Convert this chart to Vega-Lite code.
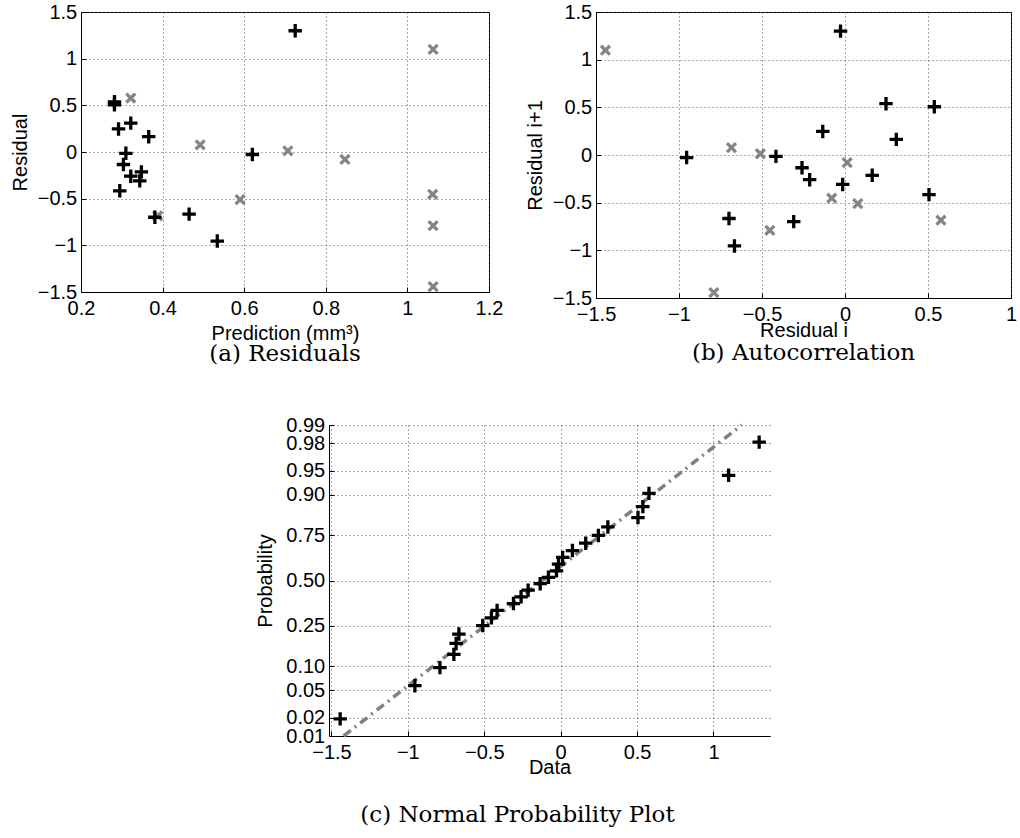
{
  "$schema": "https://vega.github.io/schema/vega-lite/v6.json",
  "autosize": {"type": "none"},
  "padding": {"left": 81, "top": 12, "right": 939, "bottom": 826},
  "background": "white",
  "bounds": "flush",
  "spacing": 413,
  "datasets": {
    "resid": [
      {"g": "g", "pred": 0.322, "res": 0.578},
      {"g": "g", "pred": 0.388, "res": -0.684},
      {"g": "g", "pred": 0.492, "res": 0.077},
      {"g": "g", "pred": 0.590, "res": -0.51},
      {"g": "g", "pred": 0.707, "res": 0.013},
      {"g": "g", "pred": 0.847, "res": -0.08},
      {"g": "g", "pred": 1.062, "res": -0.453},
      {"g": "g", "pred": 1.063, "res": -0.79},
      {"g": "g", "pred": 1.063, "res": -1.443},
      {"g": "g", "pred": 1.063, "res": 1.099},
      {"g": "b", "pred": 0.322, "res": 0.309},
      {"g": "b", "pred": 0.366, "res": 0.164},
      {"g": "b", "pred": 0.348, "res": -0.213},
      {"g": "b", "pred": 0.322, "res": -0.259},
      {"g": "b", "pred": 0.304, "res": -0.134},
      {"g": "b", "pred": 0.292, "res": 0.247},
      {"g": "b", "pred": 0.282, "res": 0.538},
      {"g": "b", "pred": 0.282, "res": 0.506},
      {"g": "b", "pred": 0.295, "res": -0.416},
      {"g": "b", "pred": 0.310, "res": -0.014},
      {"g": "b", "pred": 0.344, "res": -0.309},
      {"g": "b", "pred": 0.381, "res": -0.699},
      {"g": "b", "pred": 0.465, "res": -0.666},
      {"g": "b", "pred": 0.534, "res": -0.954},
      {"g": "b", "pred": 0.620, "res": -0.027},
      {"g": "b", "pred": 0.725, "res": 1.299}
    ],
    "auto": [
      {"g": "g", "ri": 0.578, "ri1": -0.684},
      {"g": "g", "ri": -0.684, "ri1": 0.077},
      {"g": "g", "ri": 0.077, "ri1": -0.51},
      {"g": "g", "ri": -0.51, "ri1": 0.013},
      {"g": "g", "ri": 0.013, "ri1": -0.08},
      {"g": "g", "ri": -0.08, "ri1": -0.453},
      {"g": "g", "ri": -0.453, "ri1": -0.79},
      {"g": "g", "ri": -0.79, "ri1": -1.443},
      {"g": "g", "ri": -1.443, "ri1": 1.099},
      {"g": "b", "ri": 0.309, "ri1": 0.164},
      {"g": "b", "ri": 0.164, "ri1": -0.213},
      {"g": "b", "ri": -0.213, "ri1": -0.259},
      {"g": "b", "ri": -0.259, "ri1": -0.134},
      {"g": "b", "ri": -0.134, "ri1": 0.247},
      {"g": "b", "ri": 0.247, "ri1": 0.538},
      {"g": "b", "ri": 0.538, "ri1": 0.506},
      {"g": "b", "ri": 0.506, "ri1": -0.416},
      {"g": "b", "ri": -0.416, "ri1": -0.014},
      {"g": "b", "ri": -0.014, "ri1": -0.309},
      {"g": "b", "ri": -0.309, "ri1": -0.699},
      {"g": "b", "ri": -0.699, "ri1": -0.666},
      {"g": "b", "ri": -0.666, "ri1": -0.954},
      {"g": "b", "ri": -0.954, "ri1": -0.027},
      {"g": "b", "ri": -0.027, "ri1": 1.299}
    ],
    "norm": [
      {"res": -1.443, "z": -2.070},
      {"res": -0.954, "z": -1.574},
      {"res": -0.79, "z": -1.304},
      {"res": -0.699, "z": -1.105},
      {"res": -0.684, "z": -0.942},
      {"res": -0.666, "z": -0.801},
      {"res": -0.51, "z": -0.674},
      {"res": -0.453, "z": -0.558},
      {"res": -0.416, "z": -0.448},
      {"res": -0.309, "z": -0.345},
      {"res": -0.259, "z": -0.244},
      {"res": -0.213, "z": -0.145},
      {"res": -0.134, "z": -0.048},
      {"res": -0.08, "z": 0.048},
      {"res": -0.027, "z": 0.145},
      {"res": -0.014, "z": 0.244},
      {"res": 0.013, "z": 0.345},
      {"res": 0.077, "z": 0.448},
      {"res": 0.164, "z": 0.558},
      {"res": 0.247, "z": 0.674},
      {"res": 0.309, "z": 0.801},
      {"res": 0.506, "z": 0.942},
      {"res": 0.538, "z": 1.105},
      {"res": 0.578, "z": 1.304},
      {"res": 1.099, "z": 1.574},
      {"res": 1.299, "z": 2.070}
    ],
    "ref": [
      {"res": -1.42, "z": -2.3263},
      {"res": 1.185, "z": 2.3263}
    ]
  },
  "vconcat": [
    {
      "hconcat": [
        {
          "width": 408,
          "height": 280,
          "data": {"name": "resid"},
          "view": {"stroke": "#000", "strokeWidth": 1},
          "title": {"text": "(a) Residuals", "offset": -1},
          "mark": {"type": "point", "filled": false, "strokeWidth": 3.3, "opacity": 1},
          "encoding": {
            "x": {"field": "pred", "type": "quantitative", "scale": {"domain": [0.2, 1.2], "nice": false, "zero": false}, "axis": {"values": [0.2, 0.4, 0.6, 0.8, 1, 1.2], "tickCount": 20, "format": "~g", "title": "Prediction (mm³)"}},
            "y": {"field": "res", "type": "quantitative", "scale": {"domain": [-1.5, 1.5], "nice": false}, "axis": {"values": [-1.5, -1, -0.5, 0, 0.5, 1, 1.5], "tickCount": 20, "format": "~g", "title": "Residual"}},
            "color": {"field": "g", "type": "nominal", "scale": {"domain": ["g", "b"], "range": ["#858585", "#000000"]}, "legend": null},
            "shape": {"field": "g", "type": "nominal", "scale": {"domain": ["g", "b"], "range": ["M-1,-1L1,1M-1,1L1,-1", "M-1,0H1M0,-1V1"]}, "legend": null},
            "size": {"field": "g", "type": "ordinal", "scale": {"domain": ["g", "b"], "range": [80, 180]}, "legend": null}
          }
        },
        {
          "width": 415,
          "height": 286,
          "data": {"name": "auto"},
          "view": {"stroke": "#000", "strokeWidth": 1},
          "title": {"text": "(b) Autocorrelation", "offset": 1},
          "mark": {"type": "point", "filled": false, "strokeWidth": 3.3, "opacity": 1},
          "encoding": {
            "x": {"field": "ri", "type": "quantitative", "scale": {"domain": [-1.5, 1], "nice": false, "zero": false}, "axis": {"values": [-1.5, -1, -0.5, 0, 0.5, 1], "tickCount": 20, "format": "~g", "title": "Residual i", "titlePadding": -4}},
            "y": {"field": "ri1", "type": "quantitative", "scale": {"domain": [-1.5, 1.5], "nice": false}, "axis": {"values": [-1.5, -1, -0.5, 0, 0.5, 1, 1.5], "tickCount": 20, "format": "~g", "title": "Residual i+1"}},
            "color": {"field": "g", "type": "nominal", "scale": {"domain": ["g", "b"], "range": ["#858585", "#000000"]}, "legend": null},
            "shape": {"field": "g", "type": "nominal", "scale": {"domain": ["g", "b"], "range": ["M-1,-1L1,1M-1,1L1,-1", "M-1,0H1M0,-1V1"]}, "legend": null},
            "size": {"field": "g", "type": "ordinal", "scale": {"domain": ["g", "b"], "range": [80, 180]}, "legend": null}
          }
        }
      ],
      "spacing": 107,
      "bounds": "flush"
    },
    {
      "hconcat": [
        {
          "width": 248,
          "height": 311,
          "data": {"values": []},
          "view": {"stroke": null},
          "mark": {"type": "point"},
          "encoding": {}
        },
        {
          "width": 441,
          "height": 311,
          "view": {"stroke": null},
          "title": {"text": "(c) Normal Probability Plot", "offset": 26, "dx": -32},
          "layer": [
            {
              "data": {"name": "ref"},
              "mark": {"type": "line", "color": "#808080", "strokeWidth": 3.5, "strokeDash": [9, 5, 2, 5]},
              "encoding": {
                "x": {"field": "res", "type": "quantitative", "scale": {"domain": [-1.516, 1.37], "nice": false, "zero": false}, "axis": {"values": [-1.5, -1, -0.5, 0, 0.5, 1], "tickCount": 20, "format": "~g", "title": "Data", "titlePadding": -5, "labelOverlap": false}},
                "y": {"field": "z", "type": "quantitative", "scale": {"domain": [-2.3263, 2.3263], "nice": false}, "axis": {"values": [-2.3263, -2.0537, -1.6449, -1.2816, -0.6745, 0, 0.6745, 1.2816, 1.6449, 2.0537, 2.3263], "tickCount": 40, "labelOverlap": false, "labelExpr": "datum.value < -2.2 ? '0.01' : datum.value < -2 ? '0.02' : datum.value < -1.5 ? '0.05' : datum.value < -1 ? '0.10' : datum.value < -0.5 ? '0.25' : datum.value < 0.5 ? '0.50' : datum.value < 1 ? '0.75' : datum.value < 1.5 ? '0.90' : datum.value < 2 ? '0.95' : datum.value < 2.2 ? '0.98' : '0.99'", "title": "Probability", "titlePadding": 10}}
              }
            },
            {
              "data": {"name": "norm"},
              "mark": {"type": "point", "shape": "M-1,0H1M0,-1V1", "size": 180, "filled": false, "color": "#000000", "strokeWidth": 3.3, "opacity": 1},
              "encoding": {
                "x": {"field": "res", "type": "quantitative"},
                "y": {"field": "z", "type": "quantitative"}
              }
            }
          ]
        }
      ],
      "spacing": 0,
      "bounds": "flush"
    }
  ],
  "config": {
    "font": "Liberation Sans",
    "view": {"stroke": null},
    "axis": {
      "labelFont": "Liberation Sans",
      "labelFontSize": 20,
      "labelColor": "#000",
      "titleFont": "Liberation Sans",
      "titleFontSize": 20,
      "titleFontWeight": "normal",
      "titleColor": "#000",
      "domainColor": "#000",
      "domainWidth": 1,
      "tickColor": "#000",
      "tickSize": -5,
      "tickWidth": 1,
      "gridColor": "#555",
      "gridDash": [1, 3],
      "gridWidth": 1,
      "gridOpacity": 1,
      "labelOverlap": false,
      "labelFlush": false,
      "labelBound": false
    },
    "axisX": {"labelPadding": 11.5, "titlePadding": 5},
    "axisY": {"labelPadding": 9.3, "titlePadding": 7},
    "title": {"font": "DejaVu Serif", "fontSize": 23, "fontWeight": "normal", "color": "#000", "orient": "bottom", "anchor": "middle"}
  }
}
